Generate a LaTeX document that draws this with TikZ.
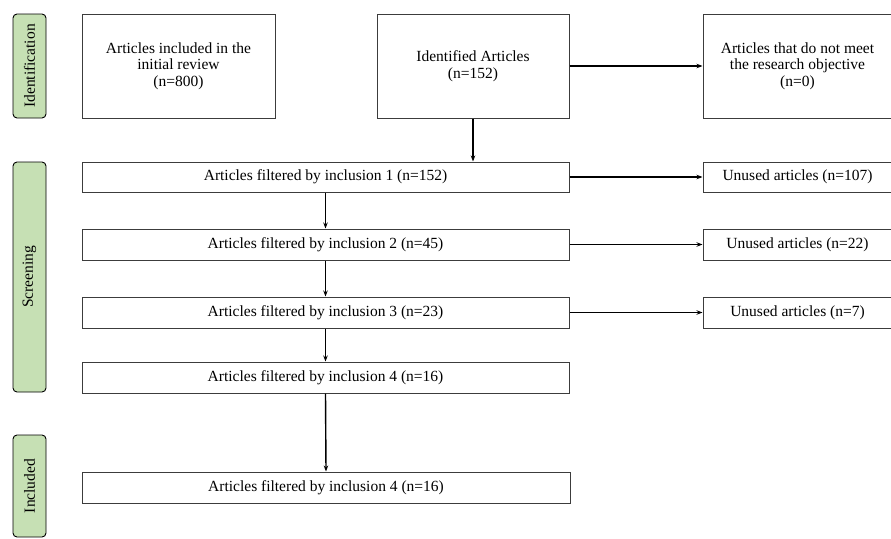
\documentclass[tikz,border=0pt]{standalone}
\usepackage{fontspec}
\setmainfont{Liberation Serif}
\usepackage{tikz}
\usetikzlibrary{arrows.meta,positioning}
\definecolor{phasegreen}{RGB}{198,224,180}
\definecolor{boxgray}{RGB}{60,60,60}

\begin{document}
\begin{tikzpicture}[x=1pt, y=-1pt,
    font=\fontsize{15.5}{16.5}\selectfont,
    box/.style={draw=boxgray, line width=1pt, fill=white, align=center, inner sep=0pt},
    bigbox/.style={box, minimum width=193pt, minimum height=104pt},
    rowbox/.style={box, minimum width=487pt, minimum height=31pt},
    sidebox/.style={box, minimum width=189pt, minimum height=31pt},
    phase/.style={draw=black, line width=0.9pt, fill=phasegreen, rounded corners=4pt,
      rotate=90, minimum height=33pt, inner sep=0pt},
    arr/.style={line width=1.4pt, -{Stealth[length=6pt,width=4.5pt]}}]
  \clip (0,0) rectangle (891,538);
  \fill[white] (0,0) rectangle (891,538);
  % phase labels
  \node[phase, minimum width=104pt] (idlab) at (29.5,66) {Identification};
  \node[phase, minimum width=230pt] (scrlab) at (29.5,277) {Screening};
  \node[phase, minimum width=102pt] (inclab) at (29.5,486) {Included};
  % identification row
  \node[bigbox] (init) at (178.5,66) {Articles included in the\\initial review\\(n=800)};
  \node[bigbox, minimum width=192pt] (ident) at (473,66) {Identified Articles\\(n=152)};
  \node[bigbox, minimum width=189pt] (nomeet) at (797.5,66) {Articles that do not meet\\the research objective\\(n=0)};
  % screening rows
  \node[rowbox, minimum height=30pt] (f1) at (325.5,177) {Articles filtered by inclusion 1 (n=152)};
  \node[rowbox] (f2) at (325.5,244.5) {Articles filtered by inclusion 2 (n=45)};
  \node[rowbox] (f3) at (325.5,312.5) {Articles filtered by inclusion 3 (n=23)};
  \node[rowbox] (f4) at (325.5,377.5) {Articles filtered by inclusion 4 (n=16)};
  \node[sidebox, minimum height=30pt] (u1) at (797.5,177) {Unused articles (n=107)};
  \node[sidebox] (u2) at (797.5,244.5) {Unused articles (n=22)};
  \node[sidebox] (u3) at (797.5,312.5) {Unused articles (n=7)};
  % included
  \node[rowbox, minimum width=488pt] (inc) at (326,487.5) {Articles filtered by inclusion 4 (n=16)};
  % connectors
  \draw[arr] (ident.east) -- (nomeet.west);
  \draw[arr] (ident.south) -- (ident.south |- f1.north);
  \draw[arr] (f1.south) -- (f2.north);
  \draw[arr] (f2.south) -- (f3.north);
  \draw[arr] (f3.south) -- (f4.north);
  \draw[arr] (f4.south) -- (inc.north);
  \draw[arr] (f1.east) -- (u1.west);
  \draw[arr] (f2.east) -- (u2.west);
  \draw[arr] (f3.east) -- (u3.west);
\end{tikzpicture}
\end{document}
